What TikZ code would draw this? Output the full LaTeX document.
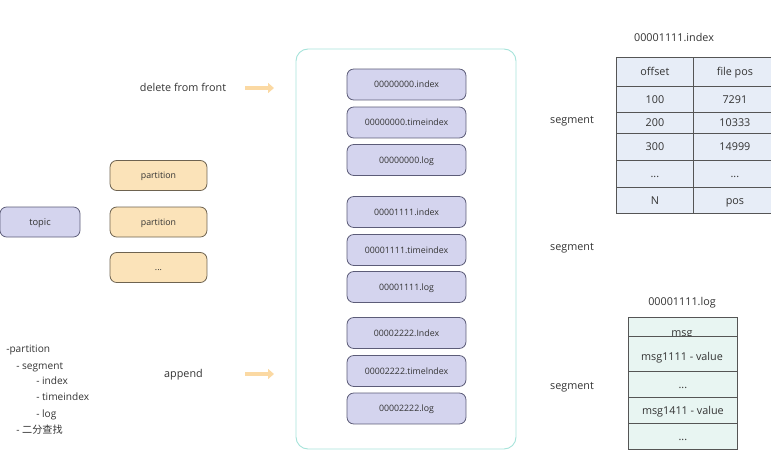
\documentclass[tikz,border=0pt]{standalone}
\usepackage{fontspec}
\setmainfont{Open Sans}
\newfontfamily\cjk{Noto Sans CJK SC}
\usetikzlibrary{arrows.meta}
\definecolor{txt}{HTML}{333333}
\definecolor{lav}{HTML}{D4D4EE}
\definecolor{lavline}{HTML}{5C5C78}
\definecolor{peach}{HTML}{FBE3B9}
\definecolor{peachline}{HTML}{6E6350}
\definecolor{teal}{HTML}{A6E3DA}
\definecolor{arrowc}{HTML}{FBD9A3}
\definecolor{idxfill}{HTML}{E7EDF7}
\definecolor{logfill}{HTML}{E8F5F2}
\definecolor{gridline}{HTML}{555555}
\tikzset{
  every node/.style={text=txt},
  big/.style={font=\fontsize{8.1pt}{9.5pt}\selectfont, text height=6.0pt, text depth=0.6pt},
  small/.style={font=\fontsize{6.6pt}{8pt}\selectfont, text height=5.2pt, text depth=0.5pt},
  lbl/.style={big, inner sep=0pt},
  lavbox/.style={small, draw=lavline, fill=lav, rounded corners=5pt, line width=0.6pt,
    minimum width=89.2pt, minimum height=23.2pt, inner sep=0pt},
  partbox/.style={small, draw=peachline, fill=peach, rounded corners=5pt, line width=0.6pt,
    minimum width=72.7pt, minimum height=22.5pt, inner sep=0pt},
  bigarrow/.style={draw=arrowc, line width=3.2pt, -{Triangle[length=4.5pt,width=7.5pt]}},
  cell/.style={big, draw=gridline, fill=idxfill, line width=0.6pt, inner sep=0pt, anchor=north west},
  logcell/.style={big, draw=gridline, fill=logfill, line width=0.6pt, inner sep=0pt, anchor=north west,
    minimum width=81.75pt},
}
\begin{document}
\begin{tikzpicture}[x=0.75pt, y=-0.75pt]
\useasboundingbox (0,0) rectangle (771,464);

% topic and partitions
\node[lavbox, minimum width=60pt, minimum height=22.5pt, font=\fontsize{7pt}{8pt}\selectfont] (topic) at (40,222) {topic};
\node[partbox] (p1) at (158.5,175.5) {partition};
\node[partbox] (p2) at (158.5,222) {partition};
\node[partbox] (p3) at (158.5,267.5) {...};

% container of segment files
\draw[teal, line width=0.7pt, rounded corners=9pt] (296,49) rectangle (516,449);
\node[lavbox] (f1) at (406.5,84.5) {00000000.index};
\node[lavbox] (f2) at (406.5,122.5) {00000000.timeindex};
\node[lavbox] (f3) at (406.5,160) {00000000.log};
\node[lavbox] (f4) at (406.5,212) {00001111.index};
\node[lavbox] (f5) at (406.5,250) {00001111.timeindex};
\node[lavbox] (f6) at (406.5,287) {00001111.log};
\node[lavbox] (f7) at (406.5,333) {00002222.Index};
\node[lavbox] (f8) at (406.5,371) {00002222.timelndex};
\node[lavbox] (f9) at (406.5,408.5) {00002222.log};

% front / back operations
\node[lbl] (del) at (183,88) {delete from front};
\coordinate (d0) at (245,88);
\coordinate (d1) at (274,88);
\draw[bigarrow] (d0) -- (d1);
\node[lbl] (app) at (183.5,374) {append};
\coordinate (a0) at (245,374);
\coordinate (a1) at (274,374);
\draw[bigarrow] (a0) -- (a1);

% segment labels
\node[lbl] (s1) at (572,120) {segment};
\node[lbl] (s2) at (572,247) {segment};
\node[lbl] (s3) at (572,386) {segment};

% index file table
\node[lbl] (idxt) at (674,38) {00001111.index};
\foreach \y/\h/\a/\b [count=\i] in {57/29/offset/file pos, 86/26/100/7291, 112/21/200/10333,
    133/27/300/14999, 160/27/{...}/{...}, 187/26/N/pos} {
  \node[cell, minimum width=57.75pt, minimum height=\h*0.75pt] (ia\i) at (616,\y) {\a};
  \node[cell, minimum width=62.25pt, minimum height=\h*0.75pt] (ib\i) at (693,\y) {\b};
}

% log file table
\node[lbl] (logt) at (682,302) {00001111.log};
\node[logcell, minimum height=14.25pt] (l1) at (628,317) {};
\begin{scope}
  \clip (628,317) rectangle (737,336);
  \node[lbl, anchor=base] (l1t) at (682,336) {msg};
\end{scope}
\node[logcell, minimum height=26.25pt] (l2) at (628,336) {};
\node[lbl] (l2t) at (682,357) {msg1111 - value};
\node[logcell, minimum height=19.5pt] (l3) at (628,371) {...};
\node[logcell, minimum height=19.5pt] (l4) at (628,397) {msg1411 - value};
\node[logcell, minimum height=19.5pt] (l5) at (628,423) {...};

% outline notes
\begin{scope}[every node/.append style={lbl, anchor=west, font=\fontsize{7.6pt}{9pt}\selectfont}]
\node (n1) at (6,349) {-partition};
\node (n2) at (16,366) {- segment};
\node (n3) at (36,381) {- index};
\node (n4) at (36,397) {- timeindex};
\node (n5) at (36,414) {- log};
\node (n6) at (16,430) {- {\cjk 二分查找}};
\end{scope}
\end{tikzpicture}
\end{document}
